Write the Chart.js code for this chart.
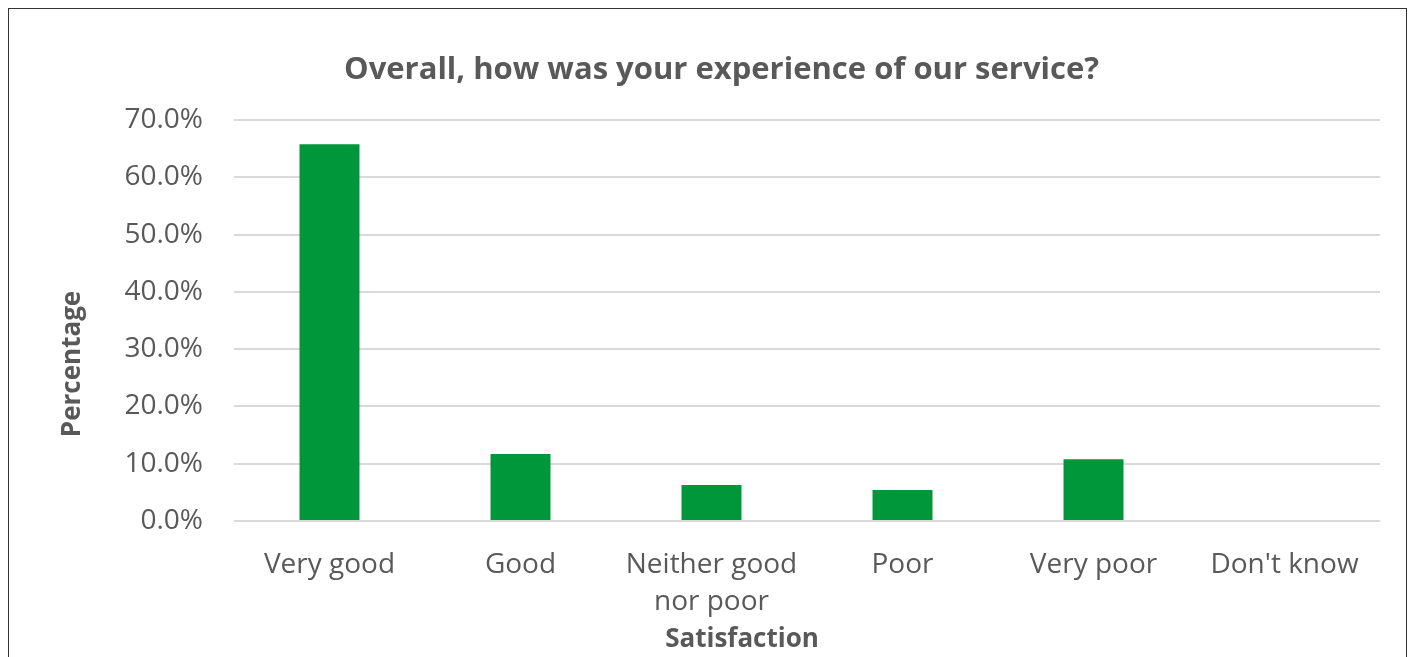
<!DOCTYPE html>
<html>
<head>
<meta charset="utf-8">
<title>Overall experience</title>
<script src="https://cdn.jsdelivr.net/npm/chart.js@4"></script>
<style>
    html, body { margin: 0; padding: 0; background: #fff; overflow: hidden; }
    #wrap { position: relative; width: 1415px; height: 657px; }
    #frame { position: absolute; left: 8px; top: 8px; width: 1399px; height: 700px; border: 1.5px solid #333; box-sizing: border-box; }
    canvas { position: absolute; left: 0; top: 0; }
</style>
</head>
<body>
<div id="wrap">
    <div id="frame"></div>
    <canvas id="chart" width="1415" height="657"></canvas>
</div>
<script>
const categories = ['Very good', 'Good', ['Neither good', 'nor poor'], 'Poor', 'Very poor', "Don't know"];
const percentages = [65.8, 11.7, 6.3, 5.4, 10.8, 0];
const yTicks = [0, 10, 20, 30, 40, 50, 60, 70];

const textGrey = '#595959';
const fontFamily = '"Open Sans", "Liberation Sans", sans-serif';

Chart.defaults.font.family = fontFamily;
Chart.defaults.color = textGrey;

// axis titles sit where the office chart put them, not centred on the plot
const axisTitles = {
    id: 'axisTitles',
    afterDraw(chart) {
        const ctx = chart.ctx;
        ctx.save();
        ctx.fillStyle = textGrey;
        ctx.font = 'bold 26px ' + fontFamily;
        ctx.textAlign = 'center';
        ctx.textBaseline = 'middle';
        ctx.fillText('Satisfaction', 742, 640);
        ctx.translate(73, 364);
        ctx.rotate(-Math.PI / 2);
        ctx.fillText('Percentage', 0, 0);
        ctx.restore();
    }
};

new Chart(document.getElementById('chart').getContext('2d'), {
    type: 'bar',
    data: {
        labels: categories,
        datasets: [{
            label: 'Percentage',
            data: percentages,
            backgroundColor: '#00973A',
            borderWidth: 0,
            categoryPercentage: 1,
            barPercentage: 0.314
        }]
    },
    options: {
        responsive: false,
        animation: false,
        layout: { padding: { left: 28, right: 0, top: 0, bottom: 0 } },
        plugins: {
            legend: { display: false },
            tooltip: { enabled: false },
            title: {
                display: true,
                text: 'Overall, how was your experience of our service?',
                color: textGrey,
                font: { size: 31, weight: 'bold' },
                padding: { top: 52, bottom: 31 }
            }
        },
        scales: {
            x: {
                grid: { display: false },
                border: { display: false },
                ticks: {
                    color: textGrey,
                    font: { size: 28, lineHeight: 1.32 },
                    padding: 18,
                    maxRotation: 0,
                    autoSkip: false
                },
                afterFit: function(scale) { scale.height = 136; }
            },
            y: {
                min: 0,
                max: 70,
                afterBuildTicks: function(scale) {
                    scale.ticks = yTicks.map(v => ({ value: v }));
                },
                grid: { color: '#d9d9d9', lineWidth: 2, drawTicks: false },
                border: { display: false },
                ticks: {
                    color: textGrey,
                    font: { size: 28 },
                    padding: 31,
                    callback: v => v.toFixed(1) + '%'
                },
                afterFit: function(scale) { scale.width = 206; }
            },
            // empty right-hand strip, keeps the plot off the frame edge
            yRight: {
                position: 'right',
                display: true,
                grid: { display: false },
                border: { display: false },
                ticks: { display: false },
                afterFit: function(scale) { scale.width = 35; }
            }
        }
    },
    plugins: [axisTitles]
});
</script>
</body>
</html>
